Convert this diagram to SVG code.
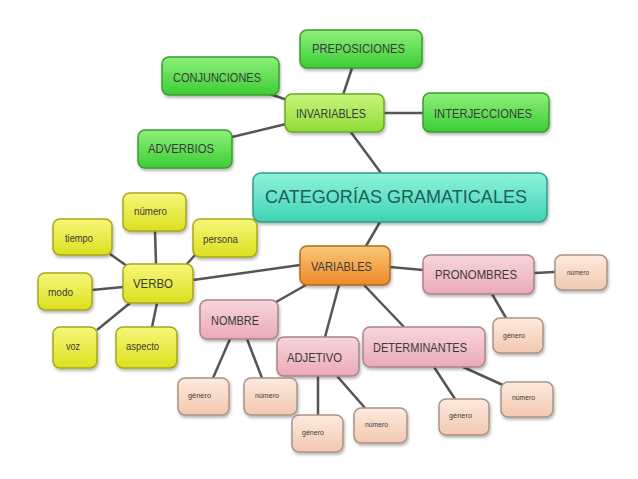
<svg xmlns="http://www.w3.org/2000/svg" width="638" height="479" viewBox="0 0 638 479">
<defs>
<linearGradient id="gGreen" x1="0" y1="0" x2="0" y2="1"><stop offset="0" stop-color="#8ef07a"/><stop offset="1" stop-color="#3ccd36"/></linearGradient>
<linearGradient id="gLime" x1="0" y1="0" x2="0" y2="1"><stop offset="0" stop-color="#c8f57a"/><stop offset="1" stop-color="#8fdc38"/></linearGradient>
<linearGradient id="gTeal" x1="0" y1="0" x2="0" y2="1"><stop offset="0" stop-color="#8ff3dc"/><stop offset="1" stop-color="#3fd2b2"/></linearGradient>
<linearGradient id="gYellow" x1="0" y1="0" x2="0" y2="1"><stop offset="0" stop-color="#f6f77a"/><stop offset="1" stop-color="#dbe01e"/></linearGradient>
<linearGradient id="gOrange" x1="0" y1="0" x2="0" y2="1"><stop offset="0" stop-color="#fbc77a"/><stop offset="1" stop-color="#ec8a26"/></linearGradient>
<linearGradient id="gPink" x1="0" y1="0" x2="0" y2="1"><stop offset="0" stop-color="#f8d6dc"/><stop offset="1" stop-color="#eaaab6"/></linearGradient>
<linearGradient id="gPeach" x1="0" y1="0" x2="0" y2="1"><stop offset="0" stop-color="#fdeade"/><stop offset="1" stop-color="#f2c8b0"/></linearGradient>
<filter id="sh" x="-20%" y="-20%" width="140%" height="150%"><feDropShadow dx="1" dy="2" stdDeviation="1.5" flood-color="#000" flood-opacity="0.3"/></filter>
</defs>
<style>
.n rect{filter:url(#sh);stroke-width:1.5}
.green rect{fill:url(#gGreen);stroke:#3a9c2c}
.lime rect{fill:url(#gLime);stroke:#6aa82a}
.teal rect{fill:url(#gTeal);stroke:#2f9e88}
.yellow rect{fill:url(#gYellow);stroke:#a6a81e}
.orange rect{fill:url(#gOrange);stroke:#b46a24}
.pink rect{fill:url(#gPink);stroke:#a8848c}
.peach rect{fill:url(#gPeach);stroke:#a89486}
text{font-family:"Liberation Sans",Arial,sans-serif;fill:#3a3a3a}
.t13{font-size:13px}
.t10{font-size:10px}
.t8{font-size:8px}
.big{font-size:19px;fill:#1e5e58}
#connectors line{stroke:#555;stroke-width:2.5}
</style>
<g id="connectors">
<line x1="343" y1="95" x2="352" y2="68"/>
<line x1="290" y1="101" x2="270" y2="94"/>
<line x1="384" y1="113" x2="423" y2="113"/>
<line x1="286" y1="124" x2="232" y2="137"/>
<line x1="350" y1="131" x2="381" y2="173"/>
<line x1="380" y1="222" x2="366" y2="246"/>
<line x1="300" y1="265" x2="193" y2="280"/>
<line x1="390" y1="267" x2="423" y2="270"/>
<line x1="306" y1="285" x2="276" y2="302"/>
<line x1="339" y1="285" x2="325" y2="337"/>
<line x1="364" y1="285" x2="404" y2="327"/>
<line x1="534" y1="273" x2="555" y2="272"/>
<line x1="492" y1="294" x2="506" y2="318"/>
<line x1="230" y1="339" x2="213" y2="378"/>
<line x1="247" y1="339" x2="262" y2="378"/>
<line x1="318" y1="376" x2="318" y2="415"/>
<line x1="337" y1="376" x2="365" y2="408"/>
<line x1="434" y1="367" x2="455" y2="399"/>
<line x1="463" y1="367" x2="505" y2="386"/>
<line x1="155" y1="231" x2="156" y2="264"/>
<line x1="110" y1="254" x2="127" y2="266"/>
<line x1="195" y1="255" x2="186" y2="265"/>
<line x1="92" y1="290" x2="123" y2="287"/>
<line x1="97" y1="330" x2="130" y2="303"/>
<line x1="152" y1="327" x2="157" y2="303"/>
</g>
<g id="preposiciones" class="n green"><rect x="300" y="30" width="122" height="38" rx="7"/><text class="t13" x="312" y="53" textLength="93" lengthAdjust="spacingAndGlyphs">PREPOSICIONES</text></g>
<g id="conjunciones" class="n green"><rect x="162" y="57" width="117" height="38" rx="7"/><text class="t13" x="173" y="82" textLength="88" lengthAdjust="spacingAndGlyphs">CONJUNCIONES</text></g>
<g id="invariables" class="n lime"><rect x="285" y="94" width="99" height="38" rx="7"/><text class="t13" x="296" y="118" textLength="70" lengthAdjust="spacingAndGlyphs">INVARIABLES</text></g>
<g id="interjecciones" class="n green"><rect x="423" y="93" width="126" height="39" rx="7"/><text class="t13" x="434" y="118" textLength="98" lengthAdjust="spacingAndGlyphs">INTERJECCIONES</text></g>
<g id="adverbios" class="n green"><rect x="138" y="130" width="94" height="38" rx="7"/><text class="t13" x="148" y="153" textLength="66" lengthAdjust="spacingAndGlyphs">ADVERBIOS</text></g>
<g id="categorias" class="n teal"><rect x="253" y="173" width="294" height="49" rx="8"/><text class="big" x="265" y="203" textLength="262" lengthAdjust="spacingAndGlyphs">CATEGORÍAS GRAMATICALES</text></g>
<g id="verbo-numero" class="n yellow"><rect x="123" y="193" width="63" height="38" rx="7"/><text class="t10" x="134" y="215" textLength="33" lengthAdjust="spacingAndGlyphs">número</text></g>
<g id="tiempo" class="n yellow"><rect x="53" y="219" width="59" height="36" rx="7"/><text class="t10" x="65" y="242" textLength="28" lengthAdjust="spacingAndGlyphs">tiempo</text></g>
<g id="persona" class="n yellow"><rect x="193" y="219" width="64" height="38" rx="7"/><text class="t10" x="203" y="243" textLength="35" lengthAdjust="spacingAndGlyphs">persona</text></g>
<g id="verbo" class="n yellow"><rect x="123" y="264" width="70" height="39" rx="7"/><text class="t13" x="133" y="288" textLength="40" lengthAdjust="spacingAndGlyphs">VERBO</text></g>
<g id="modo" class="n yellow"><rect x="38" y="273" width="54" height="37" rx="7"/><text class="t10" x="48" y="296" textLength="25" lengthAdjust="spacingAndGlyphs">modo</text></g>
<g id="voz" class="n yellow"><rect x="53" y="327" width="44" height="41" rx="7"/><text class="t10" x="66" y="350" textLength="14" lengthAdjust="spacingAndGlyphs">voz</text></g>
<g id="aspecto" class="n yellow"><rect x="116" y="327" width="61" height="41" rx="7"/><text class="t10" x="126" y="350" textLength="33" lengthAdjust="spacingAndGlyphs">aspecto</text></g>
<g id="variables" class="n orange"><rect x="300" y="246" width="90" height="39" rx="7"/><text class="t13" x="311" y="271" textLength="61" lengthAdjust="spacingAndGlyphs">VARIABLES</text></g>
<g id="pronombres" class="n pink"><rect x="423" y="255" width="111" height="39" rx="7"/><text class="t13" x="435" y="279" textLength="82" lengthAdjust="spacingAndGlyphs">PRONOMBRES</text></g>
<g id="pron-numero" class="n peach"><rect x="555" y="255" width="52" height="35" rx="7"/><text class="t8" x="567" y="275" textLength="22" lengthAdjust="spacingAndGlyphs">número</text></g>
<g id="pron-genero" class="n peach"><rect x="493" y="318" width="50" height="35" rx="7"/><text class="t8" x="503" y="338" textLength="22" lengthAdjust="spacingAndGlyphs">género</text></g>
<g id="nombre" class="n pink"><rect x="200" y="300" width="78" height="39" rx="7"/><text class="t13" x="211" y="325" textLength="48" lengthAdjust="spacingAndGlyphs">NOMBRE</text></g>
<g id="adjetivo" class="n pink"><rect x="277" y="337" width="82" height="39" rx="7"/><text class="t13" x="287" y="362" textLength="55" lengthAdjust="spacingAndGlyphs">ADJETIVO</text></g>
<g id="determinantes" class="n pink"><rect x="363" y="327" width="122" height="40" rx="7"/><text class="t13" x="373" y="352" textLength="94" lengthAdjust="spacingAndGlyphs">DETERMINANTES</text></g>
<g id="nombre-genero" class="n peach"><rect x="178" y="378" width="51" height="37" rx="7"/><text class="t8" x="188" y="398" textLength="23" lengthAdjust="spacingAndGlyphs">género</text></g>
<g id="nombre-numero" class="n peach"><rect x="244" y="378" width="53" height="37" rx="7"/><text class="t8" x="255" y="398" textLength="24" lengthAdjust="spacingAndGlyphs">número</text></g>
<g id="adj-genero" class="n peach"><rect x="292" y="415" width="51" height="37" rx="7"/><text class="t8" x="302" y="435" textLength="22" lengthAdjust="spacingAndGlyphs">género</text></g>
<g id="adj-numero" class="n peach"><rect x="354" y="408" width="53" height="35" rx="7"/><text class="t8" x="365" y="427" textLength="23" lengthAdjust="spacingAndGlyphs">número</text></g>
<g id="det-genero" class="n peach"><rect x="439" y="399" width="50" height="36" rx="7"/><text class="t8" x="449" y="418" textLength="23" lengthAdjust="spacingAndGlyphs">género</text></g>
<g id="det-numero" class="n peach"><rect x="501" y="382" width="52" height="35" rx="7"/><text class="t8" x="512" y="400" textLength="23" lengthAdjust="spacingAndGlyphs">número</text></g>
</svg>
